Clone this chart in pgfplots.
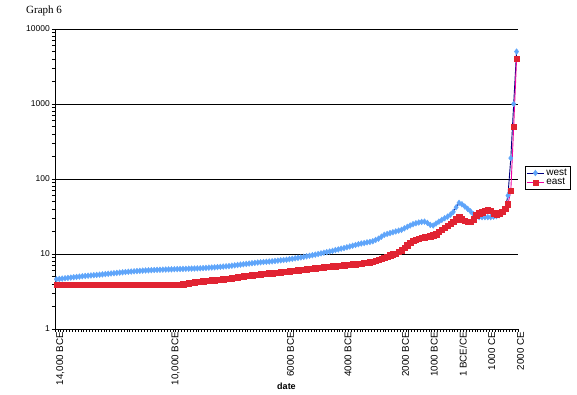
\documentclass[border=0pt]{standalone}
\usepackage{fontspec}
\setmainfont{Liberation Sans}
\newfontfamily\timesfont{Liberation Serif}
\usepackage{pgfplots}
\usepackage{pgfplotstable}
\pgfplotsset{compat=1.18}
\definecolor{westline}{RGB}{0,0,128}
\definecolor{westmark}{RGB}{95,165,250}
\definecolor{eastline}{RGB}{240,0,160}
\definecolor{eastmark}{RGB}{225,35,50}
\pgfplotstableread{
year west east
-14000 4.60 3.9
-13900 4.65 3.9
-13800 4.70 3.9
-13700 4.75 3.9
-13600 4.80 3.9
-13500 4.85 3.9
-13400 4.90 3.9
-13300 4.95 3.9
-13200 5.00 3.9
-13100 5.05 3.9
-13000 5.10 3.9
-12900 5.14 3.9
-12800 5.18 3.9
-12700 5.22 3.9
-12600 5.26 3.9
-12500 5.30 3.9
-12400 5.35 3.9
-12300 5.40 3.9
-12200 5.45 3.9
-12100 5.50 3.9
-12000 5.55 3.9
-11900 5.60 3.9
-11800 5.65 3.9
-11700 5.70 3.9
-11600 5.75 3.9
-11500 5.80 3.9
-11400 5.84 3.9
-11300 5.88 3.9
-11200 5.92 3.9
-11100 5.96 3.9
-11000 6.00 3.9
-10900 6.03 3.9
-10800 6.06 3.9
-10700 6.09 3.9
-10600 6.12 3.9
-10500 6.15 3.9
-10400 6.17 3.9
-10300 6.19 3.9
-10200 6.21 3.9
-10100 6.23 3.9
-10000 6.25 3.9
-9900 6.27 3.9
-9800 6.29 3.9
-9700 6.31 3.9
-9600 6.33 3.95
-9500 6.35 4.02
-9400 6.37 4.08
-9300 6.39 4.14
-9200 6.41 4.20
-9100 6.43 4.25
-9000 6.45 4.30
-8900 6.49 4.34
-8800 6.53 4.38
-8700 6.57 4.42
-8600 6.61 4.46
-8500 6.65 4.50
-8400 6.70 4.54
-8300 6.75 4.58
-8200 6.80 4.62
-8100 6.85 4.66
-8000 6.90 4.70
-7900 6.98 4.77
-7800 7.06 4.84
-7700 7.14 4.91
-7600 7.22 4.98
-7500 7.30 5.05
-7400 7.38 5.11
-7300 7.46 5.17
-7200 7.54 5.23
-7100 7.62 5.28
-7000 7.70 5.33
-6900 7.76 5.38
-6800 7.82 5.43
-6700 7.88 5.48
-6600 7.94 5.53
-6500 8.00 5.58
-6400 8.08 5.63
-6300 8.16 5.68
-6200 8.24 5.74
-6100 8.32 5.79
-6000 8.40 5.85
-5900 8.52 5.91
-5800 8.64 5.98
-5700 8.76 6.04
-5600 8.88 6.11
-5500 9.00 6.17
-5400 9.16 6.24
-5300 9.32 6.30
-5200 9.48 6.37
-5100 9.64 6.43
-5000 9.80 6.50
-4900 10.0 6.56
-4800 10.2 6.62
-4700 10.4 6.68
-4600 10.6 6.74
-4500 10.8 6.80
-4400 11.0 6.86
-4300 11.3 6.92
-4200 11.5 6.98
-4100 11.8 7.04
-4000 12.0 7.10
-3900 12.3 7.16
-3800 12.6 7.22
-3700 12.9 7.28
-3600 13.2 7.34
-3500 13.5 7.40
-3400 13.8 7.50
-3300 14.0 7.60
-3200 14.3 7.70
-3100 14.5 7.80
-3000 14.8 7.90
-2900 15.4 8.10
-2800 16.0 8.35
-2700 17.0 8.60
-2600 18.0 8.95
-2500 18.5 9.30
-2400 19.0 9.60
-2300 19.5 9.90
-2200 20.0 10.2
-2100 20.5 10.7
-2000 21.0 11.3
-1900 22.0 12.2
-1800 23.0 13.2
-1700 24.0 14.1
-1600 25.0 15.0
-1500 25.7 15.5
-1400 26.3 16.0
-1300 26.8 16.4
-1200 27.0 16.8
-1100 26.0 17.0
-1000 24.4 17.3
-900 24.0 17.9
-800 25.5 18.5
-700 27.0 19.7
-600 28.5 21.0
-500 30.0 22.5
-400 31.5 24.0
-300 33.5 25.5
-200 36.5 27.0
-100 42.0 29.0
0 48.0 31.0
100 46.0 29.0
200 43.0 28.0
300 40.0 27.0
400 37.0 27.0
500 34.0 29.0
600 32.0 33.0
700 31.0 35.0
800 31.0 36.0
900 31.0 38.0
1000 31.0 39.0
1100 31.0 38.0
1200 31.5 35.0
1300 32.0 34.0
1400 33.0 35.0
1500 35.0 37.0
1600 40.0 40.0
1700 60.0 46.0
1800 190 70.0
1900 1000 500
2000 5000 4000
}\datatable
\begin{document}
\begin{tikzpicture}
\useasboundingbox (0,0) rectangle (577bp,395bp);
\node[anchor=west, inner sep=0pt, font=\timesfont\fontsize{11bp}{13bp}\selectfont] at (26bp,384bp) {Graph 6};
\begin{axis}[
  at={(55bp,66bp)}, anchor=south west,
  scale only axis, width=463bp, height=300bp,
  ymode=log, ymin=1, ymax=10000,
  xmin=-14050, xmax=2050,
  scaled x ticks=false,
  axis x line*=bottom, axis y line*=left,
  axis line style={black, line width=0.8bp},
  ymajorgrids, grid style={black, line width=0.8bp},
  ytick={1,10,100,1000,10000},
  yticklabels={1,10,100,1000,10000},
  xtick={-14000,-10000,-6000,-4000,-2000,-1000,0,1000,2000},
  xticklabels={{14,000 BCE},{10,000 BCE},{6000 BCE},{4000 BCE},{2000 BCE},{1000 BCE},{1 BCE/CE},{1000 CE},{2000 CE}},
  minor xtick={-14050,-13950,...,2050},
  tick align=outside,
  major tick length=3bp, minor tick length=3bp,
  x tick style={draw=none},
  minor x tick style={black, line width=0.6bp, draw=black},
  y tick style={black, line width=0.6bp},
  /pgf/number format/assume math mode=true,
  xticklabel style={rotate=90, anchor=east, inner sep=0pt, xshift=0bp, yshift=-4bp, font=\fontsize{9.8bp}{11bp}\selectfont},
  yticklabel style={inner sep=0pt, xshift=-2bp, font=\fontsize{8.5bp}{10bp}\selectfont},
  xlabel={date},
  xlabel style={at={(rel axis cs:0.5,0)}, anchor=north, inner sep=0pt, yshift=-54bp, font=\bfseries\fontsize{9bp}{10bp}\selectfont},
  legend style={at={(rel axis cs:1.015,0.545)}, anchor=north west, draw=black, line width=0.6bp,
    font=\fontsize{10bp}{11bp}\selectfont, inner sep=1.2bp, row sep=-2.5bp},
  legend cell align=left,
  clip=false,
]
\addplot[westline, line width=0.9bp, mark=diamond*, mark size=2.9bp,
  mark options={draw=westmark, fill=westmark, line width=0.4bp}] table[x=year, y=west] {\datatable};
\addlegendentry{west}
\addplot[eastline, line width=0.9bp, mark=square*, mark size=2.7bp,
  mark options={draw=eastmark, fill=eastmark, line width=0.3bp}] table[x=year, y=east] {\datatable};
\addlegendentry{east}
\end{axis}
\end{tikzpicture}
\end{document}
